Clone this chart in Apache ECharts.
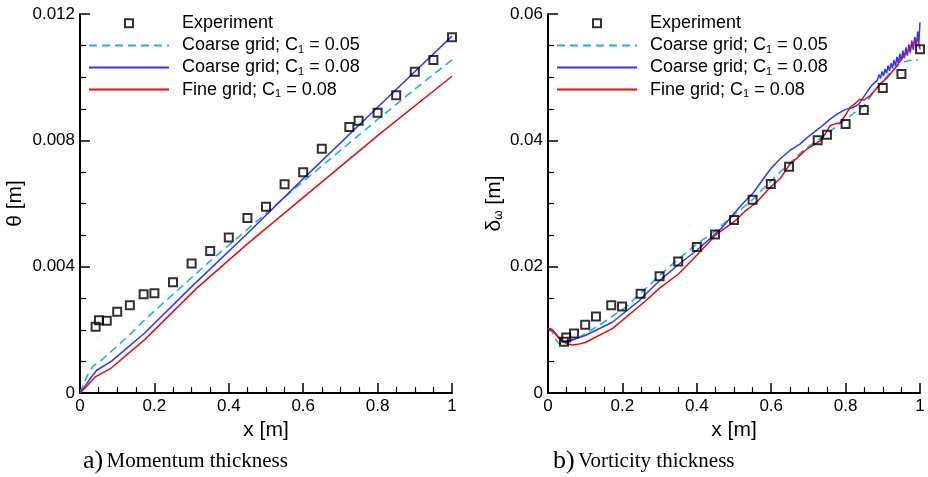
<!DOCTYPE html>
<html>
<head>
<meta charset="utf-8">
<script src="https://cdn.jsdelivr.net/npm/echarts@6/dist/echarts.min.js"></script>
<style>
  html, body { margin: 0; padding: 0; background: #ffffff; }
  #chart { width: 928px; height: 477px; }
</style>
</head>
<body>
<div id="chart"></div>
<script>
// ---- Series names ----
const names = ['Experiment', 'Coarse grid; C1 = 0.05', 'Coarse grid; C1 = 0.08', 'Fine grid; C1 = 0.08'];

// ---- a) Momentum thickness ----
const momExpX = [0.042, 0.051, 0.072, 0.100, 0.134, 0.171, 0.200, 0.250, 0.300, 0.350, 0.400, 0.450, 0.500, 0.550, 0.600, 0.650, 0.724, 0.749, 0.800, 0.850, 0.900, 0.950, 1.000];
const momExpY = [0.00210, 0.00230, 0.00229, 0.00257, 0.00278, 0.00313, 0.00316, 0.00351, 0.00410, 0.00450, 0.00492, 0.00554, 0.00590, 0.00661, 0.00699, 0.00773, 0.00842, 0.00862, 0.00887, 0.00943, 0.01017, 0.01054, 0.01126];

const momC05X = [0, 0.010, 0.021, 0.035, 0.057, 0.089, 0.129, 0.183, 0.264, 0.350, 0.450, 0.578, 0.700, 0.800, 0.900, 1.000];
const momC05Y = [0, 0.00030, 0.00058, 0.00085, 0.00103, 0.00137, 0.00179, 0.00242, 0.00327, 0.00418, 0.00518, 0.00648, 0.00768, 0.00866, 0.00962, 0.01055];

const momC08X = [0, 0.013, 0.030, 0.045, 0.084, 0.174, 0.296, 0.450, 0.596, 0.800, 1.000];
const momC08Y = [0, 0.00021, 0.00050, 0.00072, 0.00100, 0.00190, 0.00332, 0.00505, 0.00674, 0.00905, 0.01130];

const momFineX = [0, 0.013, 0.040, 0.084, 0.174, 0.314, 0.450, 0.641, 0.800, 1.000];
const momFineY = [0, 0.00015, 0.00050, 0.00079, 0.00169, 0.00332, 0.00472, 0.00659, 0.00815, 0.01003];

// ---- b) Vorticity thickness ----
const vorExpX = [0.043, 0.049, 0.070, 0.100, 0.129, 0.170, 0.199, 0.249, 0.300, 0.350, 0.400, 0.449, 0.500, 0.550, 0.599, 0.648, 0.725, 0.750, 0.800, 0.849, 0.900, 0.950, 1.000];
const vorExpY = [0.0081, 0.0088, 0.0094, 0.0108, 0.0121, 0.0139, 0.0137, 0.0157, 0.0185, 0.0208, 0.0231, 0.0251, 0.0274, 0.0306, 0.0331, 0.0358, 0.0400, 0.0409, 0.0426, 0.0448, 0.0483, 0.0505, 0.0544];

const vorC05X = [0, 0.010, 0.020, 0.030, 0.045, 0.083, 0.137, 0.209, 0.300, 0.350, 0.400, 0.444, 0.500, 0.550, 0.578, 0.605, 0.686, 0.722, 0.760, 0.794, 0.850, 0.880, 0.919, 0.950, 0.982, 0.995];
const vorC05Y = [0.0102, 0.0098, 0.0085, 0.0078, 0.0080, 0.0088, 0.0107, 0.0136, 0.0186, 0.0212, 0.0236, 0.0254, 0.0282, 0.0306, 0.0323, 0.0339, 0.0384, 0.0399, 0.0415, 0.0431, 0.0455, 0.0480, 0.0507, 0.0523, 0.0528, 0.0527];

const vorC08X = [0, 0.003, 0.015, 0.025, 0.039, 0.061, 0.100, 0.173, 0.245, 0.300, 0.350, 0.400, 0.435, 0.470, 0.498, 0.530, 0.552, 0.580, 0.600, 0.623, 0.650, 0.677, 0.700, 0.731, 0.755, 0.776, 0.800, 0.820, 0.835, 0.850, 0.870, 0.885,
                 0.890, 0.894, 0.898, 0.902, 0.906, 0.910, 0.914, 0.918, 0.922, 0.926, 0.930, 0.934, 0.938, 0.942, 0.946, 0.950, 0.954, 0.958, 0.962, 0.966, 0.970, 0.974, 0.978, 0.982, 0.986, 0.990, 0.994, 0.997, 1.000];
const vorC08Y = [0.0102, 0.0102, 0.0098, 0.0091, 0.0081, 0.0083, 0.0091, 0.0112, 0.0146, 0.0178, 0.0203, 0.0226, 0.0244, 0.0263, 0.0283, 0.0304, 0.0317, 0.0340, 0.0356, 0.0370, 0.0384, 0.0394, 0.0406, 0.0420, 0.0432, 0.0441, 0.0449, 0.0452, 0.0457, 0.0470, 0.0487, 0.0495,
                 0.0504, 0.0498, 0.0509, 0.0502, 0.0513, 0.0506, 0.0518, 0.0510, 0.0522, 0.0514, 0.0527, 0.0518, 0.0532, 0.0522, 0.0537, 0.0526, 0.0542, 0.0530, 0.0547, 0.0534, 0.0552, 0.0538, 0.0558, 0.0543, 0.0564, 0.0548, 0.0572, 0.0556, 0.0587, 0.0574];

const vorFineX = [0, 0.010, 0.030, 0.050, 0.066, 0.080, 0.100, 0.173, 0.263, 0.300, 0.350, 0.400, 0.435, 0.450, 0.502, 0.530, 0.561, 0.596, 0.625, 0.650, 0.675, 0.695, 0.715, 0.731, 0.745, 0.758, 0.772, 0.785, 0.800, 0.812, 0.825, 0.838, 0.850, 0.865, 0.880, 0.892, 0.910, 0.930, 0.946, 0.973, 0.985, 0.995, 1.000];
const vorFineY = [0.0103, 0.0101, 0.0086, 0.0078, 0.0076, 0.0077, 0.0080, 0.0102, 0.0146, 0.0166, 0.0188, 0.0218, 0.0240, 0.0250, 0.0272, 0.0288, 0.0302, 0.0325, 0.0340, 0.0362, 0.0375, 0.0386, 0.0393, 0.0399, 0.0410, 0.0423, 0.0426, 0.0428, 0.0440, 0.0452, 0.0458, 0.0465, 0.0464, 0.0470, 0.0480, 0.0489, 0.0498, 0.0512, 0.0525, 0.0546, 0.0556, 0.0560, 0.0544];

// ---- Styling ----
const SANS = 'Liberation Sans, Arial, Helvetica, sans-serif';
const SERIF = 'Liberation Serif, Times New Roman, serif';
const colCyan = '#1fb0f0';
const colBlue = '#3434ff';
const colRed = '#dd0f0f';

const pairs = (xs, ys) => xs.map((x, i) => [x, ys[i]]);

function xAxisFor(gridIndex) {
  return {
    gridIndex, type: 'value', min: 0, max: 1, interval: 0.2,
    name: 'x [m]', nameLocation: 'middle', nameGap: 21,
    nameTextStyle: { fontFamily: SANS, fontSize: 21, color: '#000' },
    axisLine: { show: true, lineStyle: { color: '#000', width: 2 } },
    axisTick: { show: true, inside: true, length: 10, lineStyle: { color: '#000', width: 1.5 } },
    minorTick: { show: true, splitNumber: 4, length: 6, lineStyle: { color: '#000', width: 1.2 } },
    axisLabel: { fontFamily: SANS, fontSize: 17, color: '#000', margin: 5,
      formatter: v => String(+v.toFixed(1)) },
    splitLine: { show: false }
  };
}

function yAxisFor(gridIndex, max, interval, name, gap, decimals) {
  return {
    gridIndex, type: 'value', min: 0, max, interval,
    name, nameLocation: 'middle', nameGap: gap, nameRotate: 90,
    nameTextStyle: { fontFamily: SANS, fontSize: 21, color: '#000',
      rich: { w: { fontFamily: SANS, fontSize: 12, color: '#000', verticalAlign: 'bottom', lineHeight: 6 } } },
    axisLine: { show: true, lineStyle: { color: '#000', width: 2 } },
    axisTick: { show: true, inside: true, length: 10, lineStyle: { color: '#000', width: 1.5 } },
    minorTick: { show: true, splitNumber: 4, length: 6, lineStyle: { color: '#000', width: 1.2 } },
    axisLabel: { fontFamily: SANS, fontSize: 17, color: '#000', margin: 5,
      formatter: v => (v === 0 ? '0' : v.toFixed(decimals)) },
    splitLine: { show: false }
  };
}

function legendFor(left) {
  const noMarker = { opacity: 0 };
  return {
    orient: 'vertical', left, top: 8,
    itemWidth: 80, itemHeight: 8, itemGap: 1.5,
    selectedMode: false,
    textStyle: { fontFamily: SANS, fontSize: 18, color: '#000', lineHeight: 20.6, padding: [0, 0, 0, 8],
      rich: { sub: { fontFamily: SANS, fontSize: 11, color: '#000', verticalAlign: 'bottom', lineHeight: 9 } } },
    formatter: n => n.replace('C1', 'C{sub|1}'),
    data: [
      { name: names[0], icon: 'path://M0,0H10V10H0Z', itemStyle: { color: 'rgba(0,0,0,0)', borderColor: '#000', borderWidth: 2 } },
      { name: names[1], itemStyle: noMarker },
      { name: names[2], itemStyle: noMarker },
      { name: names[3], itemStyle: noMarker }
    ]
  };
}

function panelSeries(idx, ex, ey, c05x, c05y, c08x, c08y, fx, fy) {
  const common = { xAxisIndex: idx, yAxisIndex: idx, type: 'line', showSymbol: false, symbol: 'none', symbolSize: 0, animation: false };
  return [
    Object.assign({}, common, { name: names[1], data: pairs(c05x, c05y), z: 2,
      lineStyle: { color: colCyan, width: 1.6, type: [8, 5] }, itemStyle: { color: colCyan } }),
    Object.assign({}, common, { name: names[2], data: pairs(c08x, c08y), z: 3,
      lineStyle: { color: colBlue, width: 1.5 }, itemStyle: { color: colBlue } }),
    Object.assign({}, common, { name: names[3], data: pairs(fx, fy), z: 4,
      lineStyle: { color: colRed, width: 1.5 }, itemStyle: { color: colRed } }),
    { name: names[0], type: 'scatter', xAxisIndex: idx, yAxisIndex: idx, data: pairs(ex, ey), z: 5,
      symbol: 'rect', symbolSize: 8, animation: false,
      itemStyle: { color: 'rgba(0,0,0,0)', borderColor: '#000', borderWidth: 2 } }
  ];
}

const chart = echarts.init(document.getElementById('chart'), null, { renderer: 'canvas' });
chart.setOption({
  backgroundColor: '#ffffff',
  animation: false,
  grid: [
    { left: 80, right: 476, top: 14, bottom: 84 },
    { left: 548, right: 8, top: 14, bottom: 84 }
  ],
  xAxis: [xAxisFor(0), xAxisFor(1)],
  yAxis: [
    yAxisFor(0, 0.012, 0.004, 'θ [m]', 54, 3),
    yAxisFor(1, 0.06, 0.02, 'δ{w|ω} [m]', 43, 2)
  ],
  legend: [legendFor(83), legendFor(551)],
  series: [
    ...panelSeries(0, momExpX, momExpY, momC05X, momC05Y, momC08X, momC08Y, momFineX, momFineY),
    ...panelSeries(1, vorExpX, vorExpY, vorC05X, vorC05Y, vorC08X, vorC08Y, vorFineX, vorFineY)
  ],
  graphic: [
    { type: 'text', left: 83, top: 448, style: { text: '{a|a)} {b|Momentum thickness}', fill: '#000',
      rich: { a: { fontFamily: SERIF, fontSize: 26, fill: '#000' }, b: { fontFamily: SERIF, fontSize: 21, fill: '#000' } } } },
    { type: 'text', left: 553, top: 448, style: { text: '{a|b)} {b|Vorticity thickness}', fill: '#000',
      rich: { a: { fontFamily: SERIF, fontSize: 26, fill: '#000' }, b: { fontFamily: SERIF, fontSize: 21, fill: '#000' } } } }
  ]
});
</script>
</body>
</html>
